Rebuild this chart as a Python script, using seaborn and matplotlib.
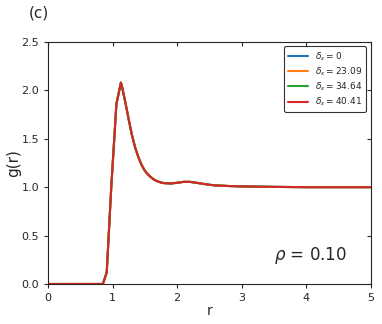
import numpy as np
import pandas as pd
import matplotlib
matplotlib.use("Agg")
import matplotlib.pyplot as plt
import seaborn as sns

# radial distribution g(r)
r = [0.0, 0.5, 0.85, 0.91, 0.98, 1.06, 1.13, 1.15, 1.2, 1.25, 1.3, 1.35, 1.4, 1.45,
     1.5, 1.55, 1.6, 1.65, 1.7, 1.75, 1.8, 1.9, 2.0, 2.1, 2.2, 2.3, 2.4,
     2.5, 2.6, 2.8, 3.0, 3.5, 4.0, 4.5, 5.0]
g_base = [0.0, 0.0, 0.0, 0.12, 1.0, 1.86, 2.08, 2.03, 1.87, 1.70, 1.54, 1.41, 1.31, 1.23,
          1.17, 1.13, 1.10, 1.075, 1.06, 1.048, 1.042, 1.038, 1.045, 1.055, 1.055, 1.045, 1.035,
          1.025, 1.018, 1.012, 1.008, 1.003, 1.0, 1.0, 1.0]
deltas = ["0", "23.09", "34.64", "40.41"]
colors = ["#1f77b4", "#ff7f0e", "#2ca02c", "#d62728"]

rows = []
for d in deltas:
    for ri, gi in zip(r, g_base):
        rows.append({"r": ri, "g": gi, "delta": d})
df = pd.DataFrame(rows)

sns.set_style("ticks")
plt.rcParams["font.family"] = ["DejaVu Sans"]

fig = plt.figure(figsize=(3.82, 3.24), dpi=100)
ax = fig.add_axes([0.1257, 0.1235, 0.8446, 0.747])

for d, c in zip(deltas, colors):
    sub = df[df["delta"] == d]
    sns.lineplot(data=sub, x="r", y="g", ax=ax, color=c, lw=1.5,
                 label=rf"$\delta_\epsilon = ${d}")

ax.set_xlim(0, 5)
ax.set_ylim(0, 2.5)
ax.set_xticks([0, 1, 2, 3, 4, 5])
ax.set_yticks([0.0, 0.5, 1.0, 1.5, 2.0, 2.5])
ax.tick_params(direction="out", labelsize=8, length=3)
ax.tick_params(which="both", top=True, right=True)
# top and right ticks point inward
for t in ax.xaxis.get_major_ticks():
    t.tick2line.set_marker(3)
for t in ax.yaxis.get_major_ticks():
    t.tick2line.set_marker(0)
ax.set_xlabel("r", fontsize=10, labelpad=1)
ax.set_ylabel("g(r)", fontsize=11, labelpad=0)
ax.text(3.5, 0.25, r"$\rho$ = 0.10", fontsize=12)
fig.text(0.075, 0.945, "(c)", fontsize=11)

leg = ax.legend(loc="upper right", fontsize=6.5, frameon=True, fancybox=True,
                edgecolor="black", handlelength=2.2, borderpad=0.4,
                labelspacing=0.3)
leg.get_frame().set_linewidth(0.8)

fig.savefig("out.png", dpi=100)
